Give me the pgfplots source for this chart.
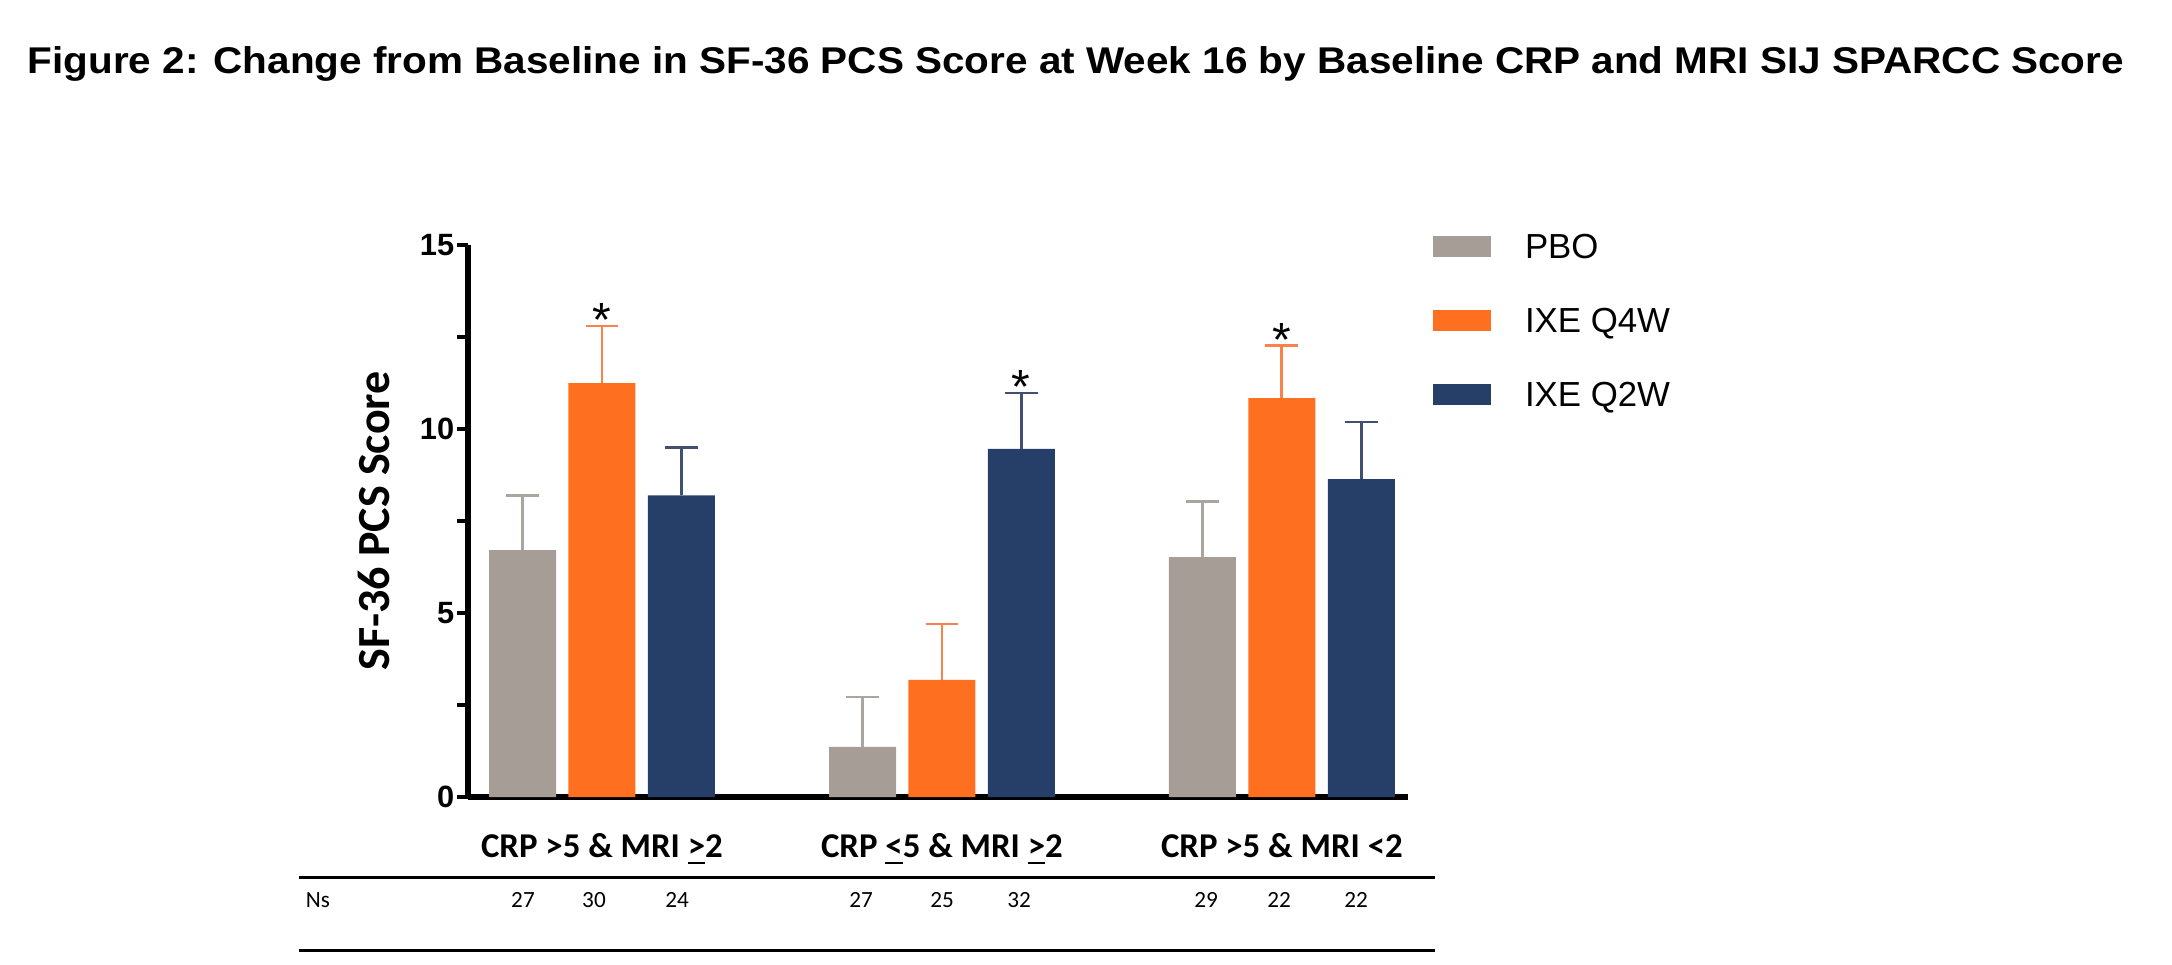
\documentclass[border=0pt]{standalone}
\usepackage{fontspec}
\setmainfont{Liberation Sans}
\newfontfamily\carlito{Carlito}
\usepackage{pgfplots}
\pgfplotsset{compat=1.18}

\definecolor{pbo}{HTML}{A59D96}
\definecolor{pboerr}{HTML}{ABA5A0}
\definecolor{qfour}{HTML}{FF6F20}
\definecolor{qfourerr}{HTML}{F7834A}
\definecolor{qtwo}{HTML}{263F69}
\definecolor{qtwoerr}{HTML}{425070}

\begin{document}
\begin{tikzpicture}
% page frame and loose text, in pixel units of the reference
\begin{scope}[x=0.25pt,y=-0.25pt]
  \path (0,0) rectangle (2172,964);
  \node[anchor=base west, inner sep=0pt, font=\bfseries\fontsize{9.3}{11}\selectfont] at (27,73)
    {\scalebox{1.088}[1]{Figure 2: Change from Baseline in SF-36 PCS Score at Week 16 by Baseline CRP and MRI SIJ SPARCC Score}};
  \draw[line width=0.75pt] (299,877) -- (1435,877);
  \draw[line width=0.75pt] (299,950) -- (1435,950);
  \begin{scope}[every node/.style={font=\carlito\fontsize{5.8}{6}\selectfont}]
    \node at (318,900) {Ns};
    \node at (523,900) {27};  \node at (594,900) {30};  \node at (677,900) {24};
    \node at (861,900) {27};  \node at (942,900) {25};  \node at (1019,900) {32};
    \node at (1206,900) {29}; \node at (1279,900) {22}; \node at (1356,900) {22};
  \end{scope}
\end{scope}

\begin{axis}[
    at={(117pt,-199.25pt)}, anchor=south west,
    scale only axis, width=235pt, height=138pt,
    ybar=3.1pt, bar width=16.75pt,
    xmin=-0.394, xmax=2.371, ymin=0, ymax=15,
    axis lines*=left,
    axis line style={line width=1.5pt},
    xtick={0,1,2},
    xticklabels={{CRP >5 \& MRI \underline{>}2},{CRP \underline{<}5 \& MRI \underline{>}2},{CRP >5 \& MRI <2}},
    xtick style={draw=none},
    xticklabel style={font=\carlito\bfseries\fontsize{8.7}{10}\selectfont, yshift=-2.8pt},
    ytick={0,5,10,15}, minor ytick={2.5,7.5,12.5},
    tick align=outside, major tick length=2.75pt, minor tick length=2.75pt,
    ytick style={line width=1.1pt, black},
    /pgf/number format/assume math mode=true,
    yticklabel style={font=\bfseries\fontsize{7.7}{9}\selectfont, inner sep=0.5pt},
    ylabel={SF-36 PCS Score},
    ylabel style={font=\carlito\bfseries\fontsize{11.5}{13}\selectfont, at={(axis description cs:-0.100,0.5)}, anchor=center},
    legend image code/.code={\fill[#1] (0pt,-3pt) rectangle (14.5pt,2.25pt);},
    legend style={draw=none, inner sep=0pt, outer sep=0pt,
        at={(axis description cs:1.0266,1.0234)}, anchor=north west,
        nodes={inner sep=0pt, text height=6.5pt, text depth=0pt, font=\fontsize{8.7}{10}\selectfont},
        row sep=12pt, column sep=8.5pt},
    legend cell align=left,
    clip=false,
]
\addplot[fill=pbo, draw=none,
    error bars/.cd, y dir=plus, y explicit,
    error bar style={draw=pboerr, line width=0.7pt},
    error mark options={rotate=90, draw=pboerr, line width=0.7pt, mark size=4.1pt}]
    coordinates {(0,6.71) +- (0,1.49) (1,1.36) +- (0,1.36) (2,6.52) +- (0,1.50)};
\addplot[fill=qfour, draw=none,
    error bars/.cd, y dir=plus, y explicit,
    error bar style={draw=qfourerr, line width=0.7pt},
    error mark options={rotate=90, draw=qfourerr, line width=0.7pt, mark size=4.1pt}]
    coordinates {(0,11.25) +- (0,1.55) (1,3.18) +- (0,1.52) (2,10.84) +- (0,1.42)};
\addplot[fill=qtwo, draw=none,
    error bars/.cd, y dir=plus, y explicit,
    error bar style={draw=qtwoerr, line width=0.7pt},
    error mark options={rotate=90, draw=qtwoerr, line width=0.7pt, mark size=4.1pt}]
    coordinates {(0,8.20) +- (0,1.30) (1,9.46) +- (0,1.52) (2,8.64) +- (0,1.55)};
\legend{PBO, IXE Q4W, IXE Q2W}
% significance stars
\node[anchor=base, inner sep=0pt, font=\fontsize{12}{13}\selectfont, yshift=-2.6pt] at (axis cs:0,12.80) {*};
\node[anchor=base, inner sep=0pt, font=\fontsize{12}{13}\selectfont, yshift=-2.6pt] at (axis cs:1.2335,10.98) {*};
\node[anchor=base, inner sep=0pt, font=\fontsize{12}{13}\selectfont, yshift=-2.6pt] at (axis cs:2,12.26) {*};
\end{axis}
\end{tikzpicture}
\end{document}
